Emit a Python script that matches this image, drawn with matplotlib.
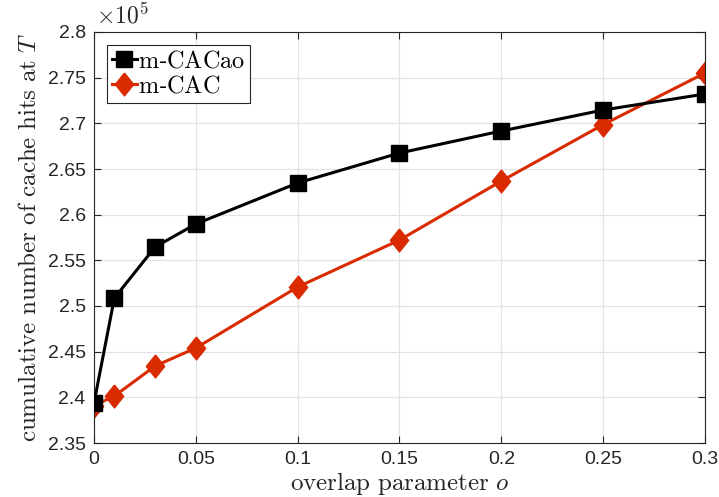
import matplotlib
matplotlib.use('Agg')
import matplotlib.pyplot as plt
from matplotlib.ticker import FuncFormatter

plt.rcParams['mathtext.fontset'] = 'cm'
plt.rcParams['font.family'] = ['Liberation Sans', 'DejaVu Sans']

# data
overlap = [0, 0.01, 0.03, 0.05, 0.1, 0.15, 0.2, 0.25, 0.3]
hits_cacao = [239380, 250870, 256460, 258980, 263470, 266750, 269160, 271460, 273210]
hits_cac = [239100, 240140, 243430, 245400, 252080, 257220, 263680, 269860, 275510]

dark = '#262626'
diamond = [(0, 1), (0.8, 0), (0, -1), (-0.8, 0), (0, 1)]

fig = plt.figure(figsize=(7.19, 4.97), dpi=100)
ax = fig.add_axes([94/719, 1 - 443/497, 611/719, 411/497])

ax.plot(overlap, hits_cacao, '-', marker='s', color='black', lw=2.2, ms=11.5,
        label=r'$\mathrm{m}$-$\mathrm{CACao}$', zorder=3)
ax.plot(overlap, hits_cac, '-', marker=diamond, color='#DA2A00', lw=2.2, ms=16.5,
        label=r'$\mathrm{m}$-$\mathrm{CAC}$', zorder=2)

ax.set_xlim(0, 0.3)
ax.set_ylim(235000, 280000)
ax.set_xticks([0, 0.05, 0.1, 0.15, 0.2, 0.25, 0.3])
ax.set_yticks([235000 + 5000 * i for i in range(10)])
ax.xaxis.set_major_formatter(FuncFormatter(lambda v, p: '%g' % round(v, 3)))
ax.yaxis.set_major_formatter(FuncFormatter(lambda v, p: '%g' % round(v / 1e5, 3)))
ax.tick_params(direction='in', top=True, right=True, labelsize=14, length=5, width=0.8,
               colors=dark, pad=6)
ax.grid(True, color='#e3e3e3', lw=0.9)
ax.set_axisbelow(True)
for s in ax.spines.values():
    s.set_linewidth(0.8)
    s.set_color(dark)

ax.text(0.003, 1.008, r'$\times 10^5$', transform=ax.transAxes, fontsize=17,
        ha='left', va='bottom', family='DejaVu Sans', color=dark)

ax.set_xlabel(r'$\mathrm{overlap\ parameter}\ o$', fontsize=18, labelpad=1, color=dark)
ax.set_ylabel(r'$\mathrm{cumulative\ number\ of\ cache\ hits\ at}\ T$', fontsize=18,
              labelpad=5, color=dark)

leg = ax.legend(loc='upper left', fontsize=17.5, fancybox=False, edgecolor=dark,
                framealpha=1, handlelength=1.0, handletextpad=0.05, borderpad=0.2,
                labelspacing=0.15, borderaxespad=0.55, markerscale=1.0)
leg.get_frame().set_linewidth(0.8)
for t in leg.get_texts():
    t.set_color('black')

fig.savefig('out.png', dpi=100)
